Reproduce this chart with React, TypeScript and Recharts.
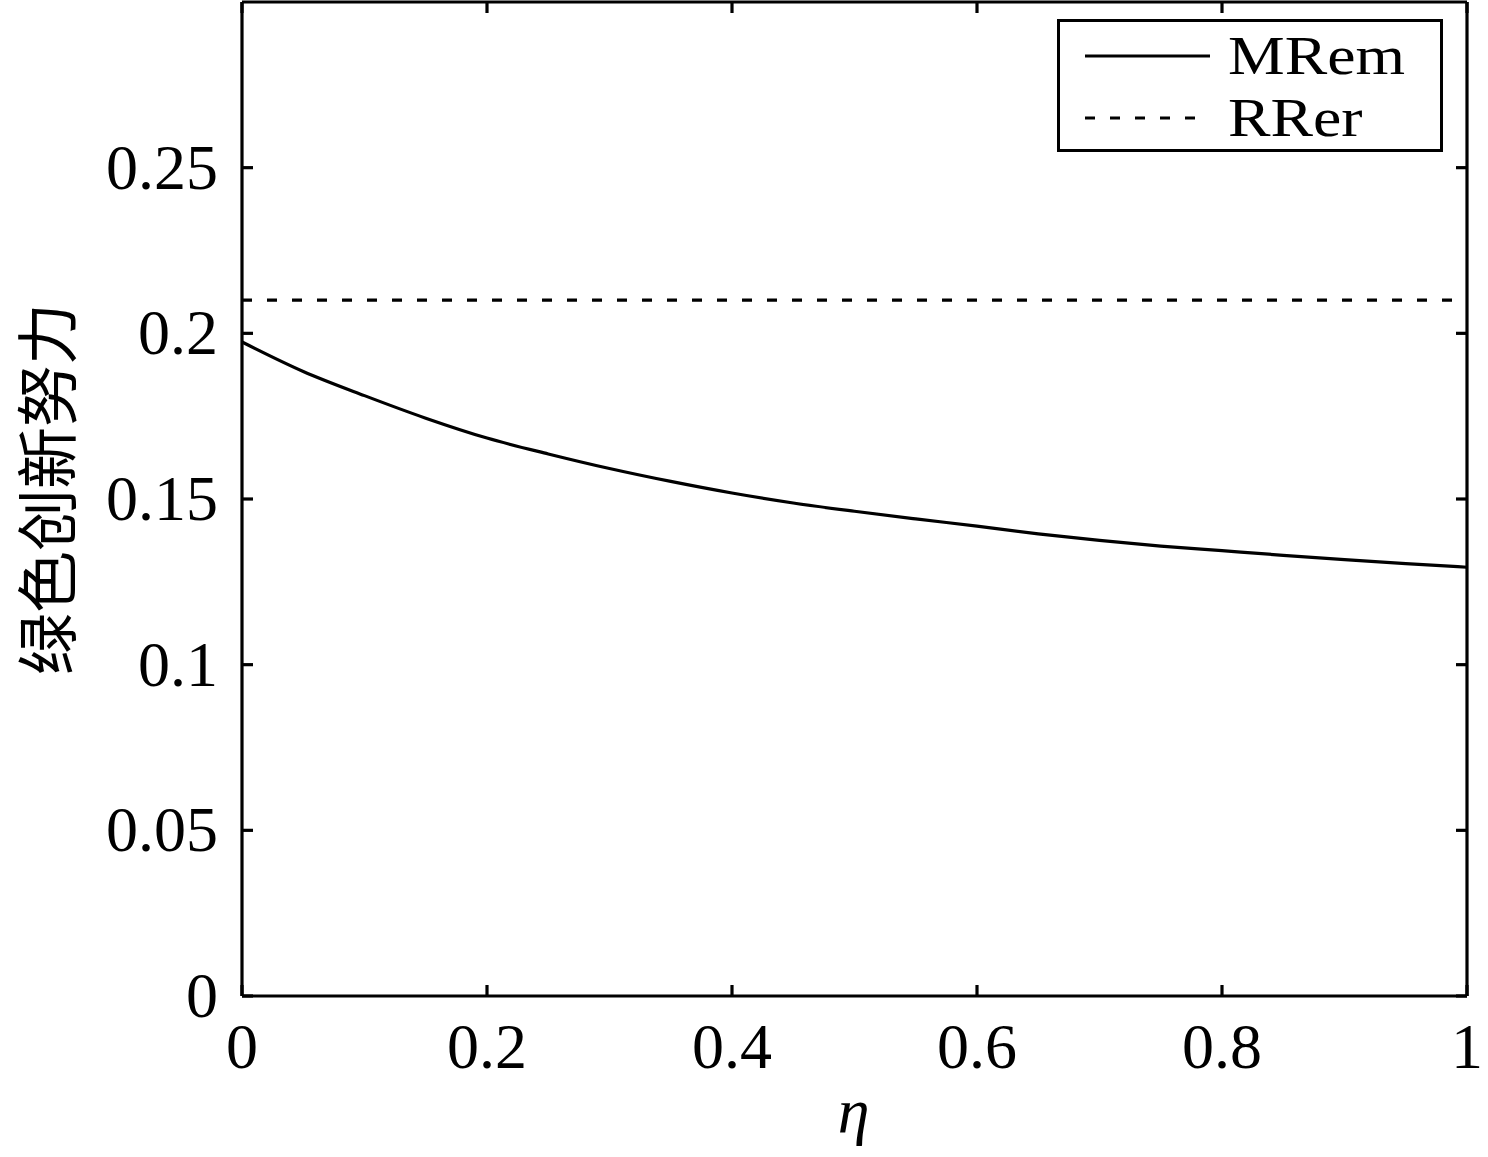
import React from 'react';
import {
  LineChart, Line, XAxis, YAxis, Legend,
} from 'recharts';

// η values and the two series
const etaValues = [0, 0.05, 0.1, 0.15, 0.2, 0.25, 0.3, 0.35, 0.4, 0.45, 0.5, 0.55, 0.6, 0.65, 0.7, 0.75, 0.8, 0.85, 0.9, 0.95, 1];
const mremValues = [0.1974, 0.1885, 0.1812, 0.1744, 0.1684, 0.1636, 0.1592, 0.1553, 0.1518, 0.1488, 0.1463, 0.144, 0.1418, 0.1395, 0.1375, 0.1358, 0.1344, 0.133, 0.1317, 0.1305, 0.1294];
const rrerValues = [0.21, 0.21, 0.21, 0.21, 0.21, 0.21, 0.21, 0.21, 0.21, 0.21, 0.21, 0.21, 0.21, 0.21, 0.21, 0.21, 0.21, 0.21, 0.21, 0.21, 0.21];

const xTicks = [0, 0.2, 0.4, 0.6, 0.8, 1];
const yTicks = [0, 0.05, 0.1, 0.15, 0.2, 0.25];
const seriesNames = ['MRem', 'RRer'];
const yLabel = '绿色创新努力';
const xLabel = 'η';

const data = etaValues.map((eta, i) => ({ eta, mrem: mremValues[i], rrer: rrerValues[i] }));

const FONT = '"Liberation Serif", "DejaVu Serif", serif';
const FS = 64;
const TICK = 11;
const SW = 3.2;

const BottomTick = ({ x, y, payload }: any) => (
  <g>
    <line x1={x} y1={y} x2={x} y2={y - TICK} stroke="#000" strokeWidth={SW} />
    <text x={x} y={y + 72} textAnchor="middle" fontFamily={FONT} fontSize={FS} fill="#000">
      {String(payload.value)}
    </text>
  </g>
);

const TopTick = ({ x, y }: any) => (
  <line x1={x} y1={y} x2={x} y2={y + TICK} stroke="#000" strokeWidth={SW} />
);

const LeftTick = ({ x, y, payload }: any) => (
  <g>
    <line x1={x} y1={y} x2={x + TICK} y2={y} stroke="#000" strokeWidth={SW} />
    <text x={x - 24} y={y + 21} textAnchor="end" fontFamily={FONT} fontSize={FS} fill="#000">
      {String(payload.value)}
    </text>
  </g>
);

const RightTick = ({ x, y }: any) => (
  <line x1={x} y1={y} x2={x - TICK} y2={y} stroke="#000" strokeWidth={SW} />
);

const LegendBox = () => (
  <div
    style={{
      width: 380, height: 127, border: '3px solid #000', background: '#fff',
      fontFamily: FONT, fontSize: 54, lineHeight: '62px', boxSizing: 'content-box',
    }}
  >
    {seriesNames.map((name, i) => (
      <div key={name} style={{ display: 'flex', alignItems: 'center', height: 62, marginTop: i === 0 ? 3 : 0 }}>
        <svg width={168} height={20} style={{ display: 'block' }}>
          <line
            x1={25} y1={10} x2={150} y2={10} stroke="#000" strokeWidth={SW}
            strokeDasharray={i === 1 ? '10 15' : undefined}
          />
        </svg>
        <span style={{ display: 'inline-block', lineHeight: '62px', transform: 'scaleX(1.18)', transformOrigin: 'left center' }}>
          {name}
        </span>
      </div>
    ))}
  </div>
);

const axisLine = { stroke: '#000', strokeWidth: SW };

export default function App() {
  return (
    <div style={{ position: 'absolute', left: 0, top: 0, background: '#fff' }}>
      <LineChart width={1488} height={1157} data={data} margin={{ top: 1, right: 20, bottom: 0, left: 0 }}>
        <XAxis
          dataKey="eta" type="number" domain={[0, 1]} ticks={xTicks} interval={0}
          height={161} tickSize={0} tickMargin={0} tickLine={false}
          axisLine={axisLine} tick={<BottomTick />}
          label={({ viewBox }: any) => (
            <text
              x={viewBox.x + viewBox.width / 2 - 1} y={1132} textAnchor="middle"
              fontFamily={FONT} fontStyle="italic" fontSize={FS} fill="#000"
            >
              {xLabel}
            </text>
          )}
        />
        <XAxis
          xAxisId="top" dataKey="eta" orientation="top" type="number" domain={[0, 1]} ticks={xTicks} interval={0}
          height={1} tickSize={0} tickMargin={0} tickLine={false}
          axisLine={axisLine} tick={<TopTick />}
        />
        <YAxis
          type="number" domain={[0, 0.3]} ticks={yTicks} interval={0}
          width={242} tickSize={0} tickMargin={0} tickLine={false}
          axisLine={axisLine} tick={<LeftTick />}
          label={({ viewBox }: any) => {
            const cy = viewBox.y + viewBox.height / 2 - 10;
            return (
              <text
                x={44} y={cy} transform={`rotate(-90, 44, ${cy})`} textAnchor="middle"
                dominantBaseline="central" fontFamily='"Noto Sans CJK SC", sans-serif'
                fontSize={62} fill="#000"
              >
                {yLabel}
              </text>
            );
          }}
        />
        <YAxis
          yAxisId="right" orientation="right" type="number" domain={[0, 0.3]} ticks={yTicks} interval={0}
          width={1} tickSize={0} tickMargin={0} tickLine={false}
          axisLine={axisLine} tick={<RightTick />}
        />
        <Legend
          layout="horizontal" verticalAlign="middle" align="center"
          content={<LegendBox />}
          wrapperStyle={{ position: 'absolute', left: 1057, top: 19, width: 386, height: 133 }}
        />
        <Line
          type="monotone" dataKey="mrem" name={seriesNames[0]} stroke="#000" strokeWidth={SW}
          dot={false} isAnimationActive={false}
        />
        <Line
          type="linear" dataKey="rrer" name={seriesNames[1]} xAxisId="top" yAxisId="right"
          stroke="#000" strokeWidth={SW} strokeDasharray="10 15" dot={false} isAnimationActive={false}
        />
      </LineChart>
    </div>
  );
}
